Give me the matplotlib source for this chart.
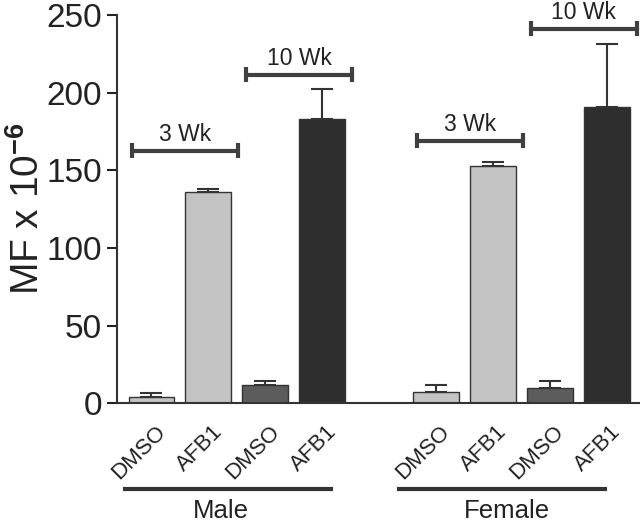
import matplotlib
matplotlib.use('Agg')
import matplotlib.pyplot as plt
import matplotlib.transforms as mtransforms

plt.rcParams['font.family'] = ['Liberation Sans', 'DejaVu Sans']
plt.rcParams['mathtext.fontset'] = 'custom'
plt.rcParams['mathtext.rm'] = 'Liberation Sans'
plt.rcParams['mathtext.bf'] = 'Liberation Sans:bold'

# data
positions = [0, 1, 2, 3, 5, 6, 7, 8]
labels = ['DMSO', 'AFB1', 'DMSO', 'AFB1', 'DMSO', 'AFB1', 'DMSO', 'AFB1']
mf = [4, 136, 12, 183, 7.5, 153, 10, 191]
sem = [2.5, 2, 2.5, 19, 4, 2.5, 4.5, 40]
colors = ['#c3c3c3', '#c3c3c3', '#5c5c5c', '#2e2e2e',
          '#c3c3c3', '#c3c3c3', '#5c5c5c', '#2e2e2e']

# time brackets: (first bar index, last bar index, height, label)
brackets = [(0, 1, 162.5, '3 Wk'), (2, 3, 211.5, '10 Wk'),
            (4, 5, 169, '3 Wk'), (6, 7, 241, '10 Wk')]
groups = [('Male', -0.49, 3.19, 1.22), ('Female', 4.32, 8.0, 6.25)]

fig = plt.figure(figsize=(6.4, 5.22), dpi=100)
ax = fig.add_axes([0.183, 0.2274, 0.817, 0.7442])

ax.bar(positions, mf, width=0.8, color=colors, edgecolor='#333333', linewidth=1,
       yerr=[[0] * len(sem), sem],
       error_kw=dict(ecolor='#333333', elinewidth=1.5, capsize=8, capthick=1.5))

for a, b, h, txt in brackets:
    x0 = positions[a] - 0.33
    x1 = positions[b] + 0.52
    ax.plot([x0, x1], [h, h], color='#404040', lw=3, clip_on=False,
            solid_capstyle='butt')
    for xx in (x0, x1):
        ax.plot([xx, xx], [h - 4.8, h + 4.8], color='#404040', lw=3,
                clip_on=False, solid_capstyle='butt')
    ax.text((x0 + x1) / 2, h + 6, txt, ha='center', va='baseline',
            fontsize=16.5, color='#222222', clip_on=False)

ax.set_xlim(-0.6, 8.58)
ax.set_ylim(0, 250)
ax.set_yticks([0, 50, 100, 150, 200, 250])
ax.tick_params(axis='y', labelsize=24, length=7, width=1.5, pad=4,
               colors='#222222')
ax.tick_params(axis='x', length=0, pad=13)
ax.set_xticks(positions)
ax.set_xticklabels(labels, rotation=45, ha='right', rotation_mode='anchor',
                   fontsize=16, color='#222222')
shift = mtransforms.ScaledTranslation(0.035, 0, fig.dpi_scale_trans)
for lab in ax.get_xticklabels():
    lab.set_transform(lab.get_transform() + shift)

ax.set_ylabel('MF x 10$^{\\mathbf{-6}}$', fontsize=28, color='#222222')
ax.yaxis.set_label_coords(-0.134, 0.5)

for s in ['top', 'right']:
    ax.spines[s].set_visible(False)
for s in ['left', 'bottom']:
    ax.spines[s].set_linewidth(1.5)
    ax.spines[s].set_color('#333333')

trans = ax.get_xaxis_transform()
for name, x0, x1, xt in groups:
    ax.plot([x0, x1], [-0.2206, -0.2206], color='#333333', lw=3,
            transform=trans, clip_on=False, solid_capstyle='butt')
    ax.text(xt, -0.296, name, transform=trans, ha='center', va='baseline',
            fontsize=18.5, color='#222222')

fig.savefig('out.png', dpi=100)
